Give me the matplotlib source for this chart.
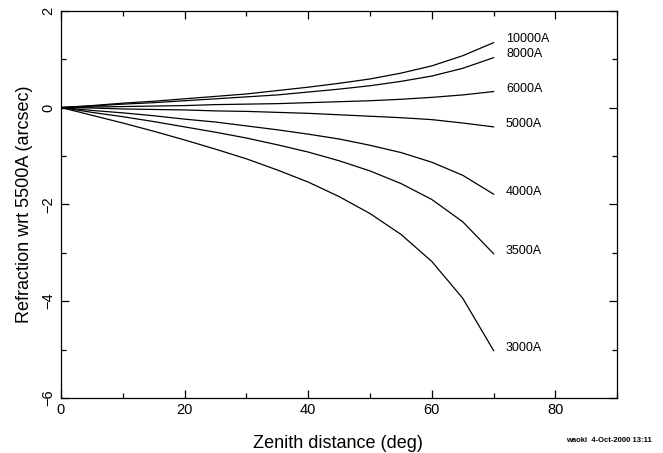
import matplotlib
matplotlib.use('Agg')
import matplotlib.pyplot as plt
from matplotlib.ticker import MultipleLocator

plt.rcParams['font.family'] = ['Liberation Sans', 'DejaVu Sans']

# zenith distance (deg)
zenith = [0, 5, 10, 15, 20, 25, 30, 35, 40, 45, 50, 55, 60, 65, 70]

# refraction relative to 5500A (arcsec)
r10000 = [0, 0.04, 0.09, 0.13, 0.18, 0.23, 0.28, 0.35, 0.42, 0.50, 0.59, 0.71, 0.86, 1.07, 1.34]
r8000 = [0, 0.03, 0.07, 0.10, 0.14, 0.18, 0.22, 0.26, 0.32, 0.38, 0.45, 0.54, 0.65, 0.81, 1.03]
r6000 = [0, 0.01, 0.02, 0.03, 0.04, 0.06, 0.07, 0.08, 0.10, 0.12, 0.14, 0.17, 0.21, 0.26, 0.33]
r5000 = [0, -0.01, -0.03, -0.04, -0.05, -0.07, -0.08, -0.10, -0.12, -0.15, -0.18, -0.21, -0.25, -0.32, -0.40]
r4000 = [0, -0.06, -0.11, -0.17, -0.24, -0.30, -0.38, -0.46, -0.55, -0.65, -0.78, -0.93, -1.13, -1.40, -1.79]
r3500 = [0, -0.10, -0.19, -0.29, -0.40, -0.51, -0.63, -0.77, -0.92, -1.10, -1.31, -1.57, -1.90, -2.36, -3.02]
r3000 = [0, -0.16, -0.32, -0.49, -0.67, -0.86, -1.06, -1.29, -1.54, -1.84, -2.19, -2.62, -3.18, -3.94, -5.02]

curves = [r10000, r8000, r6000, r5000, r4000, r3500, r3000]
names = ['10000A', '8000A', '6000A', '5000A', '4000A', '3500A', '3000A']
label_y = [1.42, 1.11, 0.38, -0.34, -1.74, -2.96, -4.96]

fig = plt.figure(figsize=(6.63, 4.53), dpi=100)
ax = fig.add_axes([0.092, 0.1214, 0.839, 0.855])

for vals, name, ly in zip(curves, names, label_y):
    ax.plot(zenith, vals, color='black', linewidth=0.9)
    ax.text(72, ly, name, fontsize=9, va='center', ha='left')

ax.set_xlim(0, 90)
ax.set_ylim(-6, 2)
ax.xaxis.set_major_locator(MultipleLocator(20))
ax.xaxis.set_minor_locator(MultipleLocator(10))
ax.yaxis.set_major_locator(MultipleLocator(2))
ax.yaxis.set_minor_locator(MultipleLocator(1))
ax.tick_params(which='both', direction='in', top=True, right=True, width=0.9, labelsize=10.5)
ax.tick_params(which='major', length=6)
ax.tick_params(which='minor', length=3.5)
for lab in ax.get_yticklabels():
    lab.set_rotation(90)
    lab.set_va('center')
ax.tick_params(axis='y', pad=4)
for sp in ax.spines.values():
    sp.set_linewidth(0.9)

ax.set_ylabel('Refraction wrt 5500A (arcsec)', fontsize=13, labelpad=6)
fig.text(0.51, 0.002, 'Zenith distance (deg)', fontsize=13, ha='center', va='bottom')
fig.text(0.853, 0.028, 'waoki  4-Oct-2000 13:11', fontsize=5.5, weight='bold', ha='left', va='center')

fig.savefig('out.png', dpi=100)
